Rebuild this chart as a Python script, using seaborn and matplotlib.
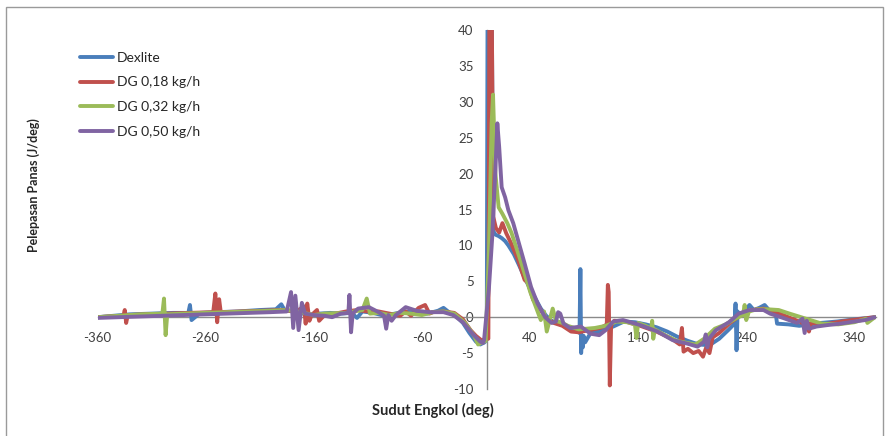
import numpy as np
import pandas as pd
import matplotlib
matplotlib.use("Agg")
import matplotlib.pyplot as plt
from matplotlib.patches import Rectangle
import seaborn as sns

# ---------------- data: (crank angle, heat release) ----------------
series_names = ["Dexlite", "DG 0,18 kg/h", "DG 0,32 kg/h", "DG 0,50 kg/h"]
colors = ["#4A7EBB", "#C0504D", "#9BBB59", "#8064A2"]

dexlite = [(-360, 0.0), (-345, 0.2), (-330, 0.4), (-310, 0.5), (-290, 0.6), (-276, 0.6),
           (-274.5, 1.7), (-273, -0.4), (-265, 0.6), (-250, 0.7), (-230, 0.8), (-210, 1.0),
           (-195, 1.1), (-190, 1.8), (-187, 1.0), (-180, 0.8), (-175, 0.7), (-165, 0.3),
           (-155, 0.5), (-145, 0.6), (-135, 0.5), (-125, 0.6), (-120, -0.1), (-115, 0.8),
           (-105, 0.6), (-95, 0.2), (-85, 0.5), (-75, 0.8), (-65, 0.6), (-55, 0.5), (-45, 0.9),
           (-40, 1.3), (-35, 0.7), (-28, 0.1), (-22, -0.8), (-16, -2.2), (-10, -3.4), (-6, -3.8),
           (-2, -3.5), (0, -3.0), (0.8, 46), (4.5, 46), (6, 12.0), (8, 11.5), (11, 11.3),
           (14, 11.0), (17, 10.6), (20, 10.0), (25, 8.8), (30, 7.2), (35, 5.5), (40, 4.0),
           (45, 2.6), (50, 1.2), (55, 0.2), (60, -0.5), (65, -0.8), (70, -1.1), (75, -1.5),
           (80, -1.8), (84, -2.0), (85.8, -2.2), (86.6, 6.7), (87.3, -5.0), (88, -2.5),
           (88.8, -4.2), (89.6, -2.6), (91, -3.5), (96, -2.2), (106, -1.9), (117, -1.3),
           (127, -0.6), (137, -0.7), (147, -1.0), (157, -1.4), (167, -2.0), (176, -2.7),
           (186, -3.3), (196, -3.8), (206, -3.9), (215, -3.0), (224, -1.7), (228.5, -1.0),
           (229.3, -0.6), (230.1, 1.9), (231, -4.6), (232, 0.8), (234, 0.3), (238, 0.8),
           (243, 1.7), (247, 1.0), (252, 1.3), (257, 1.7), (261, 1.0), (267, 0.8),
           (268.5, -0.9), (279, -1.0), (289, -1.2), (299, -1.0), (309, -0.8), (324, -0.6),
           (340, -0.3), (359, 0.0)]

dg018 = [(-360, 0.0), (-350, 0.1), (-336, 0.2), (-334.8, 1.0), (-333.5, -0.8), (-332, 0.3),
         (-315, 0.4), (-295, 0.5), (-275, 0.6), (-253, 0.7), (-251, 3.3), (-249.3, -0.7),
         (-247.5, 2.5), (-246, 0.7), (-228, 0.8), (-208, 0.9), (-190, 1.0), (-176, 0.8),
         (-169, 1.5), (-167.5, -0.9), (-166, 1.9), (-164, -0.5), (-162, 0.3), (-157, 1.0),
         (-155, -0.5), (-150, 0.3), (-140, 0.5), (-130, 0.8), (-120, 1.0), (-110, 0.8),
         (-100, 0.8), (-90, 0.5), (-80, 0.2), (-75, 0.8), (-70, 0.2), (-63, 1.3), (-57, 1.7),
         (-53, 0.5), (-50, 0.7), (-40, 0.8), (-30, 0.6), (-22, -0.3), (-15, -1.8), (-10, -2.6),
         (-5, -3.2), (1.5, -3.0), (2.5, 46), (4.5, 46), (6, 14.0), (8.5, 12.4), (11.5, 11.8),
         (14.5, 13.1), (18, 11.7), (22.5, 10.3), (29, 8.0), (35, 5.2), (38, 4.8), (43, 2.4),
         (48, 1.5), (54, 0.0), (62, -0.8), (70, -1.2), (78, -2.0), (85, -2.1), (95, -1.8),
         (105, -1.5), (109, -1.2), (111, -1.0), (112, 4.5), (112.8, 3.5), (113.8, -9.5),
         (115, -1.2), (118, -0.5), (128, -0.6), (142, -1.2), (157, -2.0), (171, -3.0),
         (178.5, -3.8), (180.5, -1.5), (182, -4.8), (186, -4.4), (191, -5.0), (196, -4.7),
         (200, -5.5), (203, -4.2), (206, -5.0), (209, -2.8), (215, -2.2), (225, -0.8),
         (235, 0.3), (245, 1.0), (256, 1.2), (266, 0.8), (279, 0.0), (289, -0.6), (294, -1.0),
         (296, -0.3), (298, -2.0), (300, -0.8), (312, -1.0), (328, -0.6), (343, -0.3), (359, 0.0)]

dg032 = [(-360, 0.0), (-340, 0.2), (-320, 0.4), (-300, 0.5), (-298.5, 2.6), (-297, -2.5),
         (-295.5, 0.4), (-280, 0.5), (-260, 0.6), (-240, 0.7), (-220, 0.8), (-200, 0.9),
         (-185, 1.0), (-175, 0.8), (-160, 0.3), (-150, 0.5), (-130, 0.6), (-115, 1.0),
         (-111, 2.6), (-108, 0.5), (-100, 0.6), (-90, 0.3), (-80, 0.6), (-70, 0.5), (-60, 0.3),
         (-50, 0.7), (-40, 0.8), (-30, 0.5), (-20, -0.8), (-12, -2.5), (-8, -3.8), (-4, -3.5),
         (-1, -3.3), (2, 9.0), (4.5, 27.0), (5.8, 31.0), (8, 20.0), (11, 15.3), (14.5, 14.4),
         (19, 13.1), (23, 11.7), (31, 8.0), (40.5, 3.4), (50, -0.4), (53, 0.8), (55.5, -2.0),
         (58, -0.5), (61, 1.2), (64, -0.5), (70, -0.8), (75, -1.2), (85, -1.7), (100, -1.5),
         (110, -1.2), (120, -0.6), (130, -0.7), (137, -1.0), (138.5, -2.9), (140, -0.8),
         (147, -1.2), (152, -1.6), (153, -0.5), (154, -3.0), (155.5, -1.7), (166, -2.6),
         (176, -3.3), (186, -3.6), (193, -3.8), (201, -3.0), (211, -1.6), (221, -1.0),
         (230, -0.2), (237, 0.3), (238.5, 1.7), (240, -0.4), (242.5, 0.8), (250, 1.1),
         (260, 1.1), (270, 1.0), (280, 0.5), (295, -0.2), (310, -0.9), (325, -1.0), (340, -0.7),
         (351, -0.2), (352, -0.8), (359, 0.0)]

dg050 = [(-360, -0.1), (-340, 0.0), (-320, 0.1), (-300, 0.2), (-280, 0.3), (-260, 0.4),
         (-240, 0.5), (-220, 0.6), (-200, 0.7), (-185, 0.8), (-181, 3.5), (-179, -1.5),
         (-177, 3.0), (-174, -1.8), (-171, 2.0), (-168, 0.5), (-160, 0.3), (-150, 0.2),
         (-143, 0.0), (-135, 0.5), (-128, 0.6), (-127, 3.1), (-125.5, -2.1), (-124, 0.5),
         (-119, 1.2), (-109, 1.4), (-100, 0.7), (-95, 0.2), (-93, -1.6), (-91, 0.3), (-88, -0.5),
         (-84, 0.3), (-75, 1.4), (-65, 0.9), (-53, 0.7), (-40, 0.7), (-31, 0.3), (-22, -0.7),
         (-12, -2.5), (-6, -3.4), (-3.5, -3.6), (-2.5, -3.2), (2, 4.0), (5, 11.0), (8, 20.5),
         (9.8, 27.0), (11.5, 23.7), (13.8, 18.1), (17, 16.7), (20, 14.9), (24.5, 13.1),
         (29, 10.7), (35, 7.5), (41, 4.2), (47, 1.9), (54, 0.0), (60, -0.8), (64, -0.6),
         (66, 0.7), (68, 0.5), (71, -0.9), (77, -1.5), (87, -1.3), (96, -2.3), (104, -2.5),
         (110, -1.8), (117, -0.6), (126, -0.4), (142, -1.1), (158, -2.0), (172, -3.2),
         (186, -3.7), (195, -4.1), (201, -3.4), (202.5, -2.4), (204, -4.2), (205.5, -3.0),
         (212, -1.8), (224, -0.7), (233, 0.5), (243, 1.0), (256, 1.0), (262, 0.5), (274, -0.1),
         (287, -0.8), (292, -0.2), (294, -2.2), (296, -0.5), (298, -1.6), (305, -1.3),
         (315, -1.1), (327, -0.9), (340, -0.6), (350, -0.4), (359, 0.0)]

all_series = [dexlite, dg018, dg032, dg050]

x_ticks = [-360, -260, -160, -60, 40, 140, 240, 340]
y_ticks = [-10, -5, 0, 5, 10, 15, 20, 25, 30, 35, 40]

# ---------------- figure ----------------
sns.set_style("white")
plt.rcParams["font.family"] = ["Lato", "DejaVu Sans"]
plt.rcParams["axes.unicode_minus"] = False

W, H = 893, 436
fig = plt.figure(figsize=(W / 100, H / 100), dpi=100)
ax = fig.add_axes([97.5 / W, 1 - 389 / H, (876 - 97.5) / W, (389 - 30) / H])

for name, col, pts in zip(series_names, colors, all_series):
    df = pd.DataFrame(pts, columns=["deg", "val"])
    sns.lineplot(data=df, x="deg", y="val", ax=ax, color=col, lw=2.8,
                 estimator=None, sort=False, label=name)

ax.set_xlim(-360, 360)
ax.set_ylim(-10, 40)
ax.set_xticks(x_ticks)
ax.set_yticks(y_ticks)
ax.set_xticklabels([str(v) for v in x_ticks])
ax.set_yticklabels([str(v) for v in y_ticks])

for s in ["top", "right"]:
    ax.spines[s].set_visible(False)
ax.spines["left"].set_position(("data", 0))
ax.spines["bottom"].set_position(("data", 0))
for s in ["left", "bottom"]:
    ax.spines[s].set_color("#8a8a8a")
    ax.spines[s].set_linewidth(1.0)
    ax.spines[s].set_zorder(1)

ax.tick_params(axis="both", direction="out", length=3, width=0.8, color="#8a8a8a",
               labelsize=9.5, labelcolor="#404040")
ax.tick_params(axis="y", pad=6.5)
ax.tick_params(axis="x", pad=8)
ax.set_xlabel("")
ax.set_ylabel("")
ax.patch.set_alpha(0)

leg = ax.legend(loc="upper left", bbox_to_anchor=(80 / W, 1 - 52 / H),
                bbox_transform=fig.transFigure, frameon=False, fontsize=10,
                handlelength=2.4, handletextpad=0.25, labelspacing=0.9,
                borderpad=0, borderaxespad=0)
for t in leg.get_texts():
    t.set_color("#262626")

fig.text(433 / W, 1 - 410 / H, "Sudut Engkol (deg)", ha="center", va="center",
         fontsize=10.5, fontweight="bold", color="#262626")
fig.text(34 / W, 1 - 185 / H, "Pelepasan Panas (J/deg)", ha="center", va="center",
         rotation=90, fontsize=9, fontweight="bold", color="#262626")

fig.add_artist(Rectangle((6 / W, -0.05), (883 - 6) / W, 1 - 7 / H + 0.05,
                         transform=fig.transFigure, fill=False,
                         edgecolor="#9a9a9a", lw=1.0))

fig.savefig("out.png", dpi=100)
